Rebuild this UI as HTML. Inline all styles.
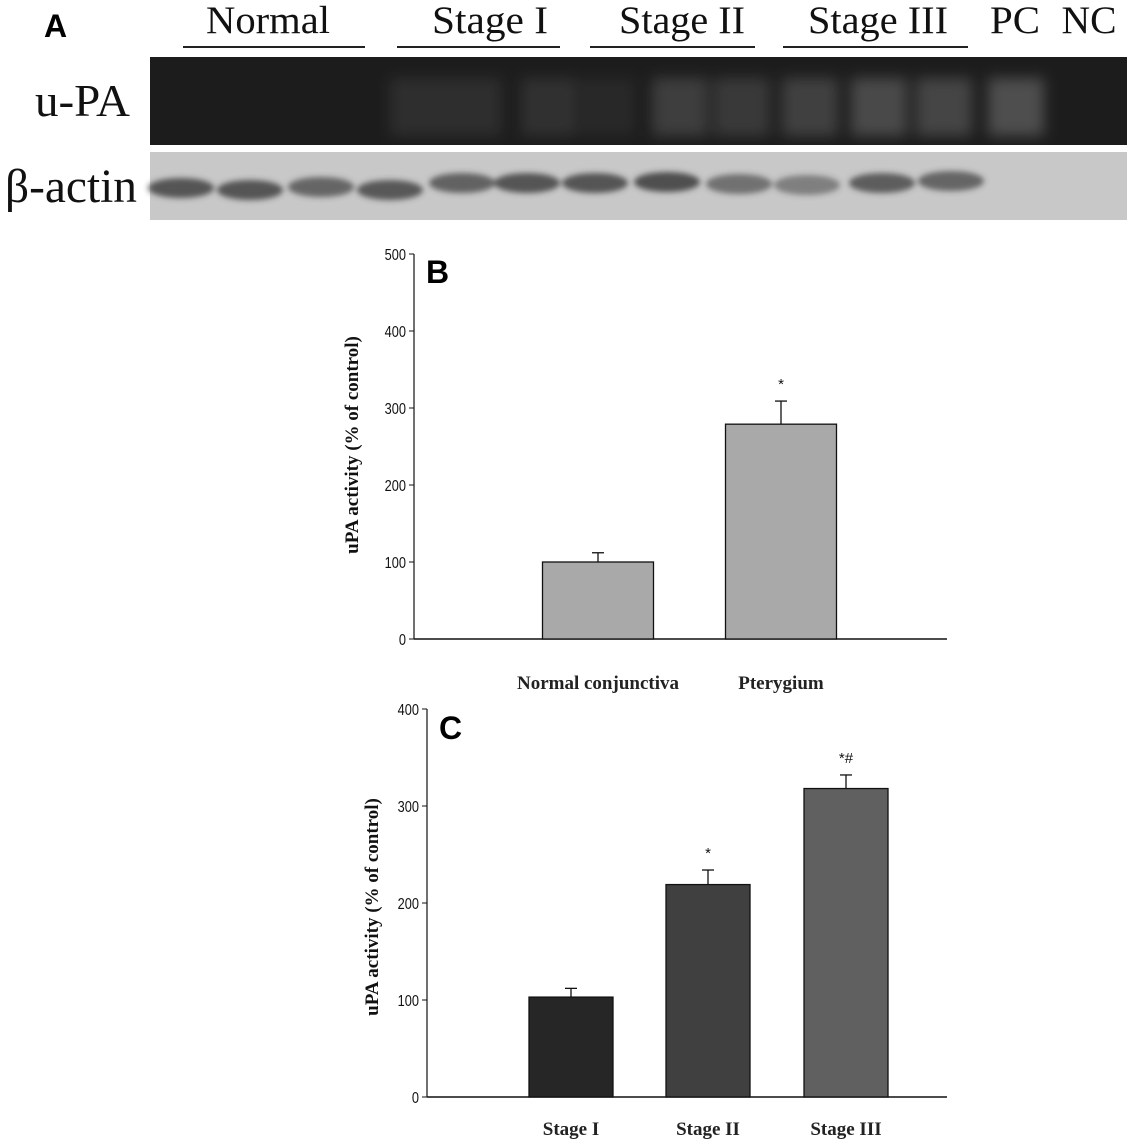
<!DOCTYPE html>
<html><head><meta charset="utf-8"><style>
body{margin:0;background:#fff;width:1127px;height:1144px;overflow:hidden}
svg{display:block}
.serif{font-family:"Liberation Serif",serif}
.sans{font-family:"Liberation Sans",sans-serif}
</style></head><body>
<svg id="fig" width="1127" height="1144" viewBox="0 0 1127 1144">
<defs>
<filter id="blur" x="-50%" y="-50%" width="200%" height="200%"><feGaussianBlur stdDeviation="7"/></filter>
<filter id="blur2" x="-50%" y="-50%" width="200%" height="200%"><feGaussianBlur stdDeviation="3"/></filter>
</defs>
<g>
<text x="44" y="37" class="sans" font-size="32" font-weight="bold">A</text>
<g class="serif" font-size="39" fill="#111">
<text x="268" y="33" text-anchor="middle" textLength="124" lengthAdjust="spacingAndGlyphs">Normal</text>
<text x="490" y="33" text-anchor="middle" textLength="116" lengthAdjust="spacingAndGlyphs">Stage I</text>
<text x="682" y="33" text-anchor="middle" textLength="126" lengthAdjust="spacingAndGlyphs">Stage II</text>
<text x="878" y="33" text-anchor="middle" textLength="140" lengthAdjust="spacingAndGlyphs">Stage III</text>
<text x="1015" y="33" text-anchor="middle" textLength="50" lengthAdjust="spacingAndGlyphs">PC</text>
<text x="1089" y="33" text-anchor="middle" textLength="55" lengthAdjust="spacingAndGlyphs">NC</text>
<text x="130" y="116" text-anchor="end" font-size="46" textLength="95" lengthAdjust="spacingAndGlyphs">u-PA</text>
<text x="137" y="202" text-anchor="end" font-size="48" textLength="132" lengthAdjust="spacingAndGlyphs">β-actin</text>
</g>
<g stroke="#222" stroke-width="2">
<line x1="183" y1="47" x2="365" y2="47"/>
<line x1="397" y1="47" x2="560" y2="47"/>
<line x1="590" y1="47" x2="755" y2="47"/>
<line x1="783" y1="47" x2="968" y2="47"/>
</g>
<rect x="150" y="57" width="977" height="88" fill="#1c1c1c"/>
<g id="glows" filter="url(#blur)"></g>
<rect x="150" y="152" width="977" height="68" fill="#c8c8c8"/>
<g id="bands" filter="url(#blur2)"></g>
</g>
<g id="chartB"></g>
<g id="chartC"></g>
</svg>
<script>
const NS='http://www.w3.org/2000/svg';
function mk(tag,attrs,parent){const e=document.createElementNS(NS,tag);for(const k in attrs)e.setAttribute(k,attrs[k]);parent.appendChild(e);return e;}

// gel lanes
const glowX=[418,474,549,608,680,742,810,879,944,1016];
const glowI=[0.08,0.08,0.09,0.05,0.15,0.13,0.16,0.2,0.18,0.22];
const bandX=[181,250,321,390,462,527,595,667,739,807,882,951];
const bandI=[0.8,0.8,0.7,0.78,0.72,0.8,0.8,0.85,0.62,0.52,0.75,0.7];
const bandY=[188,190,187,190,183,183,183,182,184,185,183,181];
const gg=document.getElementById('glows');
glowX.forEach((x,i)=>{const r=mk('rect',{x:x-28,y:78,width:56,height:58,fill:'#fff','fill-opacity':glowI[i]},gg);

});
const bg=document.getElementById('bands');
bandX.forEach((x,i)=>{const r=mk('ellipse',{cx:x,cy:bandY[i],rx:33,ry:10,fill:'#3a3a3a','fill-opacity':bandI[i]},bg);

});

// Chart B data
const bCats=['Normal conjunctiva','Pterygium'];
const bVals=[100,279];
const bErr=[12,30];
const bMarks=['','*'];
const bTicks=[0,100,200,300,400,500];
// Chart C data
const cCats=['Stage I','Stage II','Stage III'];
const cVals=[103,219,318];
const cErr=[9,15,14];
const cMarks=['','*','*#'];
const cTicks=[0,100,200,300,400];

function chart(g,o){
  const y=v=>o.y0-(v/o.max)*(o.y0-o.yTop);
  mk('line',{x1:o.ax,y1:o.y0,x2:o.xEnd,y2:o.y0,stroke:'#111','stroke-width':1.5},g);
  mk('line',{x1:o.ax,y1:o.y0,x2:o.ax,y2:o.yTop,stroke:'#111','stroke-width':1.2},g);
  o.ticks.forEach(t=>{
    const l=mk('line',{x1:o.ax-5,y1:y(t),x2:o.ax,y2:y(t),stroke:'#111'},g);
    
    
    const tx=mk('text',{x:o.ax-8,y:y(t)+6,'text-anchor':'end','font-size':16,'font-family':'Liberation Sans Narrow, Liberation Sans, sans-serif',fill:'#111',transform:`translate(${o.ax-8},0) scale(0.8,1) translate(${-(o.ax-8)},0)`},g);
    tx.textContent=t;
    
    
  });
  o.vals.forEach((v,i)=>{
    const cx=o.centers[i];
    const r=mk('rect',{x:cx-o.bw/2,y:y(v),width:o.bw,height:o.y0-y(v),fill:o.colors[i],stroke:'#111','stroke-width':1.3},g);
    
    
    const ey=y(v+o.err[i]);
    const e1=mk('line',{x1:cx,y1:y(v),x2:cx,y2:ey,stroke:'#111','stroke-width':1.3},g);
    
    
    const e2=mk('line',{x1:cx-6,y1:ey,x2:cx+6,y2:ey,stroke:'#111','stroke-width':1.3},g);
    
    
    if(o.marks[i]){const m=mk('text',{x:cx,y:ey-12,'text-anchor':'middle','font-size':15,'font-family':'Liberation Sans, sans-serif',fill:'#111'},g);
      m.textContent=o.marks[i];
      
      }
    const lb=mk('text',{x:cx,y:o.labY,'text-anchor':'middle','font-size':19,'font-weight':'bold','font-family':'Liberation Serif, serif',fill:'#222'},g);
    lb.textContent=o.cats[i];
    
    
  });
  const yt=mk('text',{transform:`translate(${o.ylX},${o.ylY}) rotate(-90)`,'text-anchor':'middle','font-size':19,'font-weight':'bold','font-family':'Liberation Serif, serif',fill:'#111'},g);
  yt.textContent='uPA activity (% of control)';
  
  
  const pl=mk('text',{x:o.plX,y:o.plY,'font-size':32,'font-weight':'bold','font-family':'Liberation Sans, sans-serif',fill:'#000'},g);
  pl.textContent=o.label;
  
  
}
chart(document.getElementById('chartB'),{ax:414,y0:639,yTop:254,max:500,xEnd:947,ticks:bTicks,vals:bVals,err:bErr,marks:bMarks,cats:bCats,
  centers:[598,781],bw:111,colors:['#a9a9a9','#a9a9a9'],labY:689,ylX:358,ylY:445,plX:426,plY:283,label:'B'});
chart(document.getElementById('chartC'),{ax:427,y0:1097,yTop:709,max:400,xEnd:947,ticks:cTicks,vals:cVals,err:cErr,marks:cMarks,cats:cCats,
  centers:[571,708,846],bw:84,colors:['#262626','#404040','#606060'],labY:1135,ylX:378,ylY:907,plX:439,plY:739,label:'C'});
</script>
</body></html>
